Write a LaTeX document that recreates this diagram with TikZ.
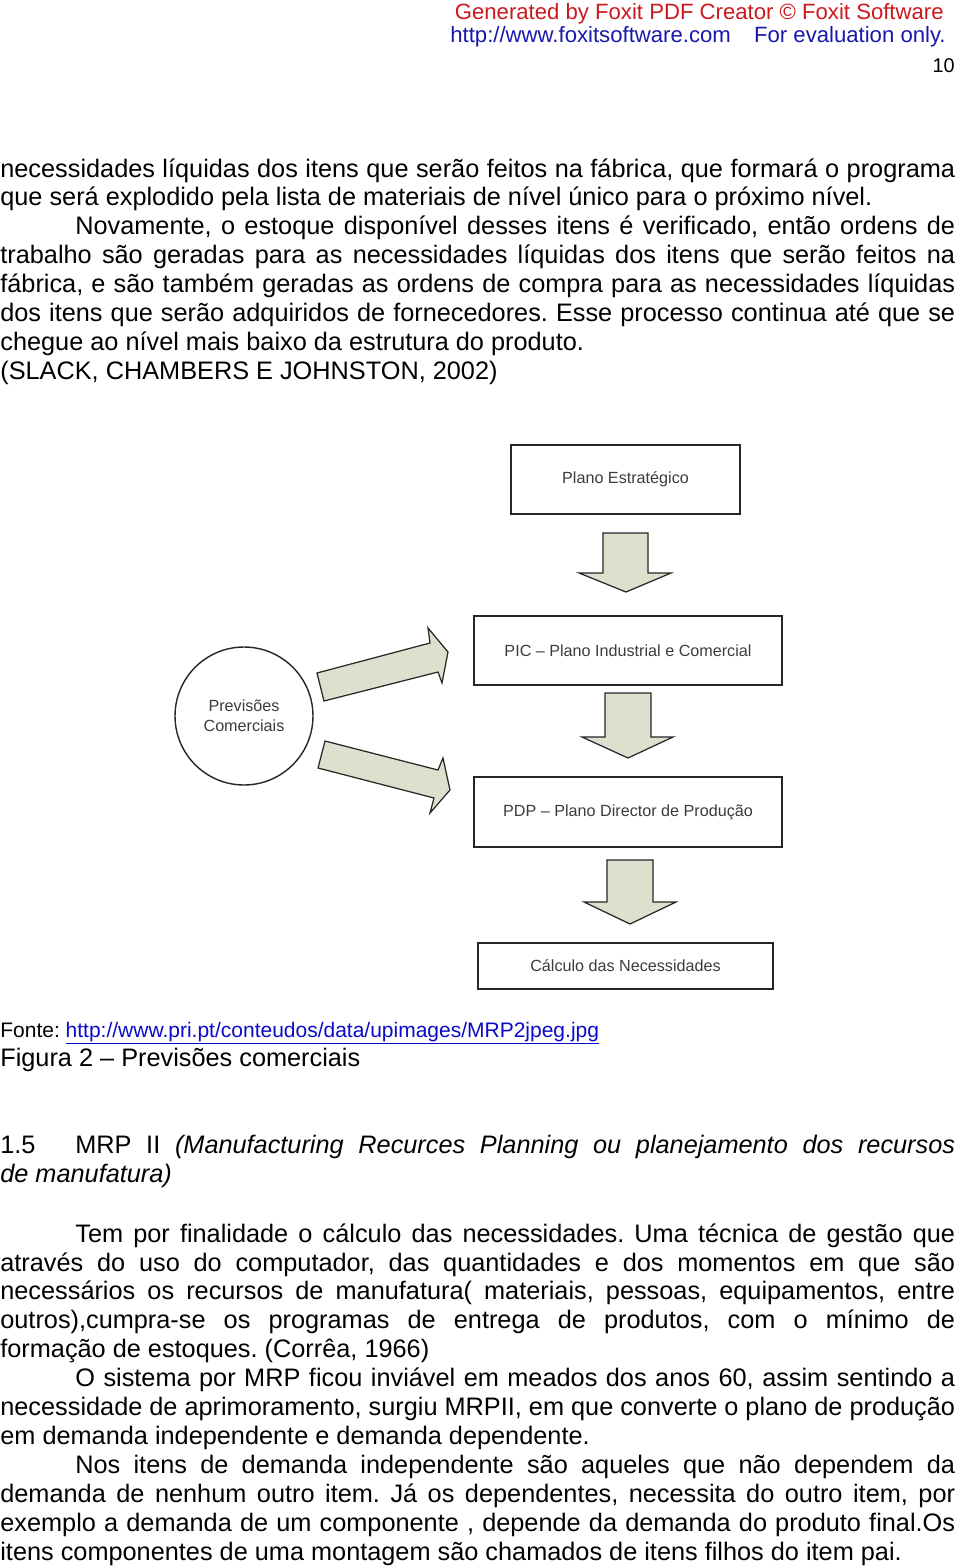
\documentclass[tikz,border=0pt]{standalone}
\usepackage{fontspec}
\setmainfont{Liberation Sans}
\frenchspacing
\tolerance=10000
\hyphenpenalty=10000
\exhyphenpenalty=10000

\definecolor{foxitred}{RGB}{204,24,30}
\definecolor{foxitblue}{RGB}{24,24,170}
\definecolor{linkblue}{RGB}{10,10,200}
\definecolor{arrowfill}{RGB}{220,224,205}
\definecolor{boxtext}{RGB}{60,60,60}

\tikzset{
  planbox/.style={draw=black!85, line width=0.8pt, text=boxtext, inner sep=0pt,
    font=\fontsize{9.2pt}{11.2pt}\selectfont},
  blockarrow/.style={draw=black!85, line width=0.7pt, fill=arrowfill, line join=miter},
  bodytext/.style={anchor=base west, inner sep=0pt, text width=19.1cm, align=justify,
    font=\fontsize{14.4pt}{16.5pt}\selectfont},
  headline/.style={inner sep=0pt, font=\fontsize{12.6pt}{14pt}\selectfont},
}

\begin{document}
\begin{tikzpicture}[x=0.02cm, y=-0.02cm]
  \useasboundingbox (0,0) rectangle (960,1568);

  % evaluation banner and page number
  \node[headline, anchor=base east, text=foxitred] (banner) at (944,20)
    {Generated by Foxit PDF Creator © Foxit Software};
  \node[headline, anchor=base west, text=foxitblue] (site) at (450,43) {http://www.foxitsoftware.com};
  \node[headline, anchor=base east, text=foxitblue] (evalonly) at (946,43) {For evaluation only.};
  \node[anchor=base east, inner sep=0pt, font=\fontsize{11.3pt}{13pt}\selectfont] (pagenum) at (955,72) {10};

  % text above the figure
  \node[bodytext] (toptext) at (0,177) {%
    necessidades líquidas dos itens que serão feitos na fábrica, que formará o programa\linebreak
    que será explodido pela lista de materiais de nível único para o próximo nível.\par
    \hspace*{1.5cm}Novamente, o estoque disponível desses itens é verificado, então ordens de\linebreak
    trabalho são geradas para as necessidades líquidas dos itens que serão feitos na\linebreak
    fábrica, e são também geradas as ordens de compra para as necessidades líquidas\linebreak
    dos itens que serão adquiridos de fornecedores. Esse processo continua até que se\linebreak
    chegue ao nível mais baixo da estrutura do produto.\par
    (SLACK, CHAMBERS E JOHNSTON, 2002)};

  % the planning chain
  \node[planbox, minimum width=4.58cm, minimum height=1.38cm] (plano) at (625.5,479.5) {Plano Estratégico};
  \node[planbox, minimum width=6.16cm, minimum height=1.38cm] (pic) at (628,650.5) {PIC – Plano Industrial e Comercial};
  \node[planbox, minimum width=6.16cm, minimum height=1.4cm] (pdp) at (628,812) {PDP – Plano Director de Produção};
  \node[planbox, minimum width=5.9cm, minimum height=0.92cm] (calculo) at (625.5,966) {Cálculo das Necessidades};
  \node[planbox, circle, minimum size=2.76cm, align=center] (previsoes) at (244,716) {Previsões\\Comerciais};

  % block arrows
  \draw[blockarrow] (603,533) -- (648,533) -- (648,573) -- (671,573) -- (626,592) -- (579,573) -- (603,573) -- cycle;
  \draw[blockarrow] (605,693) -- (651,693) -- (651,737) -- (673,737) -- (628,758) -- (582,737) -- (605,737) -- cycle;
  \draw[blockarrow] (607,860) -- (653,860) -- (653,902) -- (676,902) -- (630,924) -- (584,902) -- (607,902) -- cycle;
  \draw[blockarrow] (317,673) -- (430,643) -- (428,628) -- (448,652) -- (442,683) -- (438,672) -- (324,701) -- cycle;
  \draw[blockarrow] (325,741) -- (438,770) -- (443,758) -- (450,790) -- (430,813) -- (434,798) -- (318,768) -- cycle;

  % source and caption
  \node[anchor=base west, inner sep=0pt, font=\fontsize{11.95pt}{14pt}\selectfont] (fonte) at (0,1037)
    {Fonte: \textcolor{linkblue}{\underline{http://www.pri.pt/conteudos/data/upimages/MRP2jpeg.jpg}}};
  \node[bodytext] (figura) at (0,1066) {Figura 2 – Previsões comerciais};

  % section heading
  \node[bodytext] (secao) at (0,1153) {%
    \makebox[1.5cm][l]{1.5}MRP II \textit{(Manufacturing Recurces Planning ou planejamento dos recursos}\linebreak
    \textit{de manufatura)}};

  % text below the heading
  \node[bodytext] (bottomtext) at (0,1242) {%
    \hspace*{1.5cm}Tem por finalidade o cálculo das necessidades. Uma técnica de gestão que\linebreak
    através do uso do computador, das quantidades e dos momentos em que são\linebreak
    necessários os recursos de manufatura( materiais, pessoas, equipamentos, entre\linebreak
    outros),cumpra-se os programas de entrega de produtos, com o mínimo de\linebreak
    formação de estoques. (Corrêa, 1966)\par
    \hspace*{1.5cm}O sistema por MRP ficou inviável em meados dos anos 60, assim sentindo a\linebreak
    necessidade de aprimoramento, surgiu MRPII, em que converte o plano de produção\linebreak
    em demanda independente e demanda dependente.\par
    \hspace*{1.5cm}Nos itens de demanda independente são aqueles que não dependem da\linebreak
    demanda de nenhum outro item. Já os dependentes, necessita do outro item, por\linebreak
    exemplo a demanda de um componente , depende da demanda do produto final.Os\linebreak
    itens componentes de uma montagem são chamados de itens filhos do item pai.};
\end{tikzpicture}
\end{document}
